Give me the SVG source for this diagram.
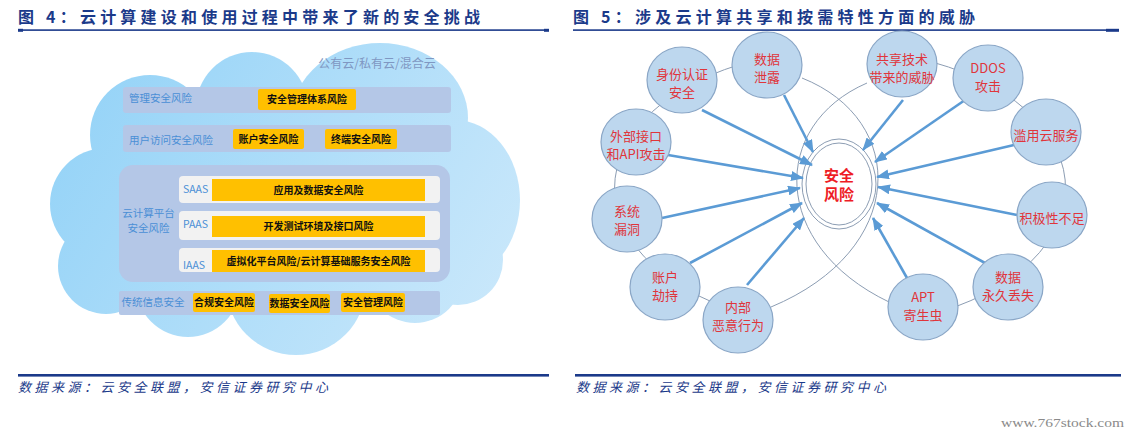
<svg xmlns="http://www.w3.org/2000/svg" width="1134" height="436" viewBox="0 0 1134 436">
<defs>
<linearGradient id="cloudGrad" gradientUnits="userSpaceOnUse" x1="60" y1="60" x2="520" y2="340">
<stop offset="0" stop-color="#92d2f7"/>
<stop offset="1" stop-color="#cde9fb"/>
</linearGradient>
<marker id="ah" markerUnits="userSpaceOnUse" markerWidth="13" markerHeight="10" refX="12" refY="5" orient="auto">
<path d="M0,0 L13,5 L0,10 z" fill="#5b9bd5"/>
</marker>
<style>
.title{font-family:"Noto Sans CJK SC",sans-serif;font-size:16px;font-weight:bold;fill:#1b3a8a}
.src{font-family:"Noto Sans CJK SC",serif;font-size:13px;font-style:italic;fill:#1b3a8a}
.rule{fill:#1b3a8a}
.cloud{fill:url(#cloudGrad)}
.bar{fill:#b4c7e7}
.white{fill:#f2f2f2}
.ybox{fill:#ffc000}
.ytxt{font-family:"Noto Sans CJK SC",sans-serif;font-size:10px;font-weight:bold;fill:#111111;text-anchor:middle}
.lbl{font-family:"Noto Sans CJK SC",sans-serif;font-size:10.5px;fill:#4a8fd6}
.cl{font-family:"Noto Sans CJK SC",sans-serif;font-size:12px;fill:#7f97c2;text-anchor:middle}
.node{fill:#bdd7ee;stroke:#8aa6c6;stroke-width:1.2}
.ntxt{font-family:"Noto Sans CJK SC",sans-serif;font-size:13px;fill:#e0353b;text-anchor:middle}
.ctxt{font-family:"Noto Sans CJK SC",sans-serif;font-size:15px;font-weight:bold;fill:#ee1c25;text-anchor:middle}
.ring{fill:none;stroke:#8c9db3;stroke-width:1}
.arrow{stroke:#5b9bd5;stroke-width:2.6;fill:none;marker-end:url(#ah)}
</style>
</defs>

<!-- Titles and rules -->
<text class="title" x="18" y="23" textLength="462" lengthAdjust="spacing">图 4：云计算建设和使用过程中带来了新的安全挑战</text>
<rect class="rule" x="18" y="29.3" width="531" height="1.6"/>
<rect class="rule" x="18" y="28.8" width="5" height="3"/>
<rect class="rule" x="544" y="28.8" width="5" height="3"/>
<text class="title" x="573" y="23" textLength="402" lengthAdjust="spacing">图 5：涉及云计算共享和按需特性方面的威胁</text>
<rect class="rule" x="573" y="29.3" width="546" height="1.6"/>
<rect class="rule" x="1106" y="28.8" width="13" height="3"/>

<rect class="rule" x="18" y="374" width="531" height="2.6"/>
<rect class="rule" x="575" y="374" width="546" height="2.6"/>
<text class="src" x="18" y="392" textLength="310" lengthAdjust="spacing">数据来源：云安全联盟，安信证券研究中心</text>
<text class="src" x="576" y="392" textLength="310" lengthAdjust="spacing">数据来源：云安全联盟，安信证券研究中心</text>
<text x="1001" y="427" font-family="Liberation Serif, serif" font-size="13" fill="#8a8a8a" textLength="123" lengthAdjust="spacingAndGlyphs">www.767stock.com</text>

<!-- Figure 4: cloud -->
<g id="cloud" class="cloud">
<ellipse cx="290" cy="200" rx="175" ry="112"/>
<circle cx="106" cy="204" r="56"/>
<circle cx="106" cy="266" r="48"/>
<circle cx="150" cy="135" r="60"/>
<circle cx="252" cy="108" r="56"/>
<ellipse cx="380" cy="118" rx="88" ry="75"/>
<ellipse cx="455" cy="200" rx="65" ry="80"/>
<circle cx="458" cy="260" r="45"/>
<circle cx="415" cy="275" r="48"/>
<circle cx="188" cy="285" r="52"/>
<circle cx="296" cy="285" r="70"/>
</g>
<text class="cl" x="377" y="67.5">公有云/私有云/混合云</text>

<g id="row-mgmt">
<rect class="bar" x="123" y="87" width="328" height="26" rx="3"/>
<text class="lbl" x="129" y="102">管理安全风险</text>
<rect class="ybox" x="258" y="89" width="98" height="21" rx="2"/>
<text class="ytxt" x="307" y="103.3">安全管理体系风险</text>
</g>

<g id="row-user">
<rect class="bar" x="123" y="125" width="328" height="27" rx="3"/>
<text class="lbl" x="129" y="144">用户访问安全风险</text>
<rect class="ybox" x="233" y="129" width="71" height="20" rx="2"/>
<text class="ytxt" x="268.5" y="142.8">账户安全风险</text>
<rect class="ybox" x="325" y="129" width="72" height="20" rx="2"/>
<text class="ytxt" x="361" y="142.8">终端安全风险</text>
</g>

<g id="row-platform">
<rect class="bar" x="119" y="165" width="331" height="117" rx="14"/>
<text class="lbl" x="148.5" y="217" text-anchor="middle">云计算平台</text>
<text class="lbl" x="148.5" y="231.5" text-anchor="middle">安全风险</text>
<rect class="white" x="179" y="176" width="261" height="27" rx="4"/>
<text class="lbl" x="183" y="193">SAAS</text>
<rect class="ybox" x="212" y="179" width="213" height="22"/>
<text class="ytxt" x="318.5" y="193.8">应用及数据安全风险</text>
<rect class="white" x="179" y="211" width="261" height="29" rx="4"/>
<text class="lbl" x="183" y="228">PAAS</text>
<rect class="ybox" x="212" y="216" width="213" height="21"/>
<text class="ytxt" x="318.5" y="230.3">开发测试环境及接口风险</text>
<rect class="white" x="179" y="248" width="261" height="24" rx="4"/>
<text class="lbl" x="183" y="269">IAAS</text>
<rect class="ybox" x="212" y="250" width="213" height="22"/>
<text class="ytxt" x="318.5" y="264.8">虚拟化平台风险/云计算基础服务安全风险</text>
</g>

<g id="row-traditional">
<rect class="bar" x="119" y="291" width="321" height="24" rx="2"/>
<text class="lbl" x="121.5" y="306">传统信息安全</text>
<rect class="ybox" x="193" y="293" width="62" height="19" rx="2"/>
<text class="ytxt" x="224" y="306.3">合规安全风险</text>
<rect class="ybox" x="269" y="294" width="61" height="19" rx="2"/>
<text class="ytxt" x="299.5" y="307.3">数据安全风险</text>
<rect class="ybox" x="341" y="293" width="64" height="19" rx="2"/>
<text class="ytxt" x="373" y="306.3">安全管理风险</text>
</g>

<!-- Figure 5: connectors -->
<g id="connectors">
<path class="ring" d="M 770 57 A 225 138 0 0 0 740 312"/>
<path class="ring" d="M 900 55 A 225 138 0 0 1 925 316"/>
<path class="ring" d="M 802 78 C 908 120, 908 250, 771 307"/>
<path class="ring" d="M 867 83 C 770 125, 770 245, 889 302"/>
<g id="center">
<ellipse cx="839" cy="184" rx="37" ry="45" fill="#ffffff" stroke="#8c9db3" stroke-width="1"/>
<ellipse cx="839" cy="184" rx="33" ry="41" fill="#ffffff" stroke="#8c9db3" stroke-width="1"/>
<text class="ctxt" x="839" y="180.5">安全</text>
<text class="ctxt" x="839" y="200">风险</text>
</g>
<line class="arrow" x1="702" y1="110" x2="812" y2="165"/>
<line class="arrow" x1="784" y1="95" x2="813" y2="152"/>
<line class="arrow" x1="668" y1="155" x2="803" y2="178"/>
<line class="arrow" x1="662" y1="218" x2="800" y2="188"/>
<line class="arrow" x1="690" y1="263" x2="802" y2="203"/>
<line class="arrow" x1="747" y1="285" x2="804" y2="218"/>
<line class="arrow" x1="903" y1="100" x2="863" y2="150"/>
<line class="arrow" x1="965" y1="100" x2="875" y2="162"/>
<line class="arrow" x1="1014" y1="145" x2="877" y2="177"/>
<line class="arrow" x1="1017" y1="215" x2="878" y2="187"/>
<line class="arrow" x1="985" y1="263" x2="877" y2="203"/>
<line class="arrow" x1="907" y1="278" x2="873" y2="218"/>
</g>

<!-- Figure 5: nodes -->
<g id="n-identity"><ellipse class="node" cx="682" cy="80" rx="35" ry="33"/><text class="ntxt" x="682" y="79">身份认证</text><text class="ntxt" x="682" y="96.5">安全</text></g>
<g id="n-leak"><ellipse class="node" cx="767" cy="65" rx="35" ry="33"/><text class="ntxt" x="767" y="64">数据</text><text class="ntxt" x="767" y="81.5">泄露</text></g>
<g id="n-shared"><ellipse class="node" cx="902" cy="64" rx="35" ry="33"/><text class="ntxt" x="902" y="63.5">共享技术</text><text class="ntxt" x="902" y="81.5">带来的威胁</text></g>
<g id="n-ddos"><ellipse class="node" cx="988" cy="78" rx="35" ry="33"/><text class="ntxt" x="988" y="72.5">DDOS</text><text class="ntxt" x="988" y="90.5">攻击</text></g>
<g id="n-abuse"><ellipse class="node" cx="1046" cy="132" rx="35" ry="33"/><text class="ntxt" x="1046" y="139.6">滥用云服务</text></g>
<g id="n-motivation"><ellipse class="node" cx="1052" cy="215" rx="35" ry="33"/><text class="ntxt" x="1052" y="222.6">积极性不足</text></g>
<g id="n-loss"><ellipse class="node" cx="1008" cy="287" rx="35" ry="33"/><text class="ntxt" x="1008" y="282">数据</text><text class="ntxt" x="1008" y="300">永久丢失</text></g>
<g id="n-apt"><ellipse class="node" cx="923" cy="307" rx="35" ry="33"/><text class="ntxt" x="923" y="302">APT</text><text class="ntxt" x="923" y="320">寄生虫</text></g>
<g id="n-insider"><ellipse class="node" cx="738" cy="320" rx="35" ry="33"/><text class="ntxt" x="738" y="312">内部</text><text class="ntxt" x="738" y="330">恶意行为</text></g>
<g id="n-account"><ellipse class="node" cx="665" cy="287" rx="35" ry="33"/><text class="ntxt" x="665" y="282">账户</text><text class="ntxt" x="665" y="300">劫持</text></g>
<g id="n-vuln"><ellipse class="node" cx="627" cy="219" rx="35" ry="33"/><text class="ntxt" x="627" y="215.5">系统</text><text class="ntxt" x="627" y="233.5">漏洞</text></g>
<g id="n-api"><ellipse class="node" cx="636" cy="142" rx="35" ry="33"/><text class="ntxt" x="636" y="140.5">外部接口</text><text class="ntxt" x="636" y="158.5">和API攻击</text></g>
</svg>
